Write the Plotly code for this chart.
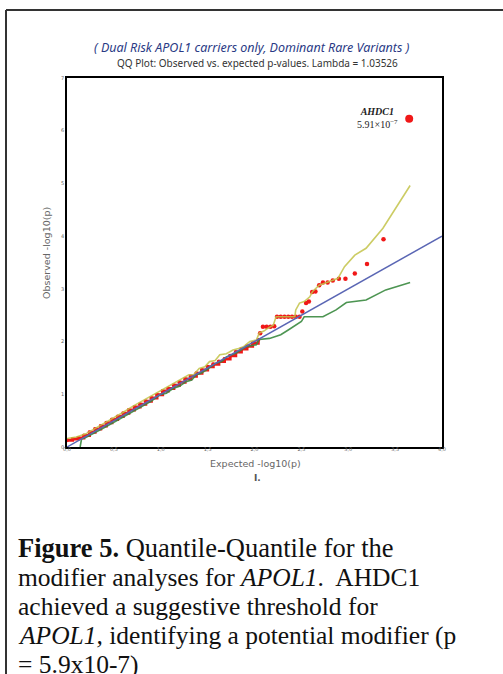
import plotly.graph_objects as go

# ---------------- data ----------------
obs_dense_x = [0.00, 0.06, 0.12, 0.18, 0.24, 0.30, 0.36, 0.42, 0.48, 0.54, 0.60, 0.66,
               0.72, 0.78, 0.84, 0.90, 0.96, 1.02, 1.08, 1.14, 1.20, 1.26, 1.32, 1.38,
               1.44, 1.50, 1.56, 1.62, 1.68, 1.74, 1.80, 1.86, 1.92, 1.98, 2.04]
obs_dense_y = [0.13, 0.15, 0.17, 0.22, 0.28, 0.34, 0.40, 0.46, 0.52, 0.58, 0.64, 0.70,
               0.76, 0.81, 0.87, 0.93, 0.99, 1.06, 1.11, 1.17, 1.23, 1.29, 1.34, 1.40,
               1.46, 1.52, 1.57, 1.62, 1.67, 1.73, 1.80, 1.86, 1.91, 1.97, 2.03]

obs_tail_x = [2.06, 2.09, 2.13, 2.17, 2.21, 2.24, 2.28, 2.32, 2.36, 2.40, 2.44, 2.48,
              2.51, 2.55, 2.58, 2.615, 2.65, 2.69, 2.73, 2.78, 2.835, 2.90, 2.97,
              3.07, 3.20, 3.376]
obs_tail_y = [2.16, 2.28, 2.28, 2.28, 2.29, 2.47, 2.47, 2.47, 2.47, 2.47, 2.47, 2.47,
              2.57, 2.73, 2.76, 2.94, 2.95, 3.07, 3.12, 3.12, 3.16, 3.19, 3.19,
              3.29, 3.47, 3.94]

top_gene = "AHDC1"
top_x = [3.65]
top_y = [6.228]

upper_x = [0.00, 0.10, 0.20, 0.30, 0.40, 0.50, 0.60, 0.70, 0.80, 0.90, 1.00, 1.10,
           1.20, 1.30, 1.35, 1.41, 1.47, 1.52, 1.58, 1.63, 1.70, 1.77, 1.83, 1.88,
           1.95, 2.02, 2.05, 2.10, 2.14, 2.20, 2.23, 2.43, 2.44, 2.48, 2.53, 2.59,
           2.62, 2.69, 2.80, 2.89, 2.96, 3.07, 3.19, 3.37, 3.66]
upper_y = [0.16, 0.19, 0.25, 0.35, 0.46, 0.56, 0.66, 0.77, 0.87, 0.97, 1.07, 1.17,
           1.27, 1.37, 1.37, 1.49, 1.52, 1.62, 1.64, 1.75, 1.77, 1.84, 1.87, 1.90,
           2.00, 2.03, 2.16, 2.20, 2.25, 2.31, 2.47, 2.47, 2.60, 2.73, 2.76, 2.85,
           2.95, 3.07, 3.14, 3.20, 3.42, 3.64, 3.77, 4.15, 4.96]

lower_x = [0.14, 0.155, 0.20, 0.30, 0.40, 0.50, 0.60, 0.70, 0.80, 0.90, 0.99, 1.06,
           1.13, 1.20, 1.27, 1.33, 1.38, 1.43, 1.485, 1.54, 1.59, 1.65, 1.70, 1.80,
           1.91, 2.02, 2.05, 2.16, 2.28, 2.36, 2.44, 2.50, 2.53, 2.73, 2.87, 2.98,
           3.19, 3.40, 3.66]
lower_y = [0.00, 0.15, 0.18, 0.27, 0.37, 0.47, 0.57, 0.67, 0.77, 0.87, 0.99, 1.02,
           1.11, 1.15, 1.24, 1.27, 1.37, 1.40, 1.46, 1.52, 1.59, 1.62, 1.71, 1.78,
           1.90, 1.94, 2.04, 2.06, 2.13, 2.22, 2.31, 2.38, 2.47, 2.47, 2.60, 2.74,
           2.79, 2.98, 3.12]

diag_x = [0.0, 4.0]
diag_y = [0.0, 4.0]

x_tickvals = [0.0, 0.5, 1.0, 1.5, 2.0, 2.5, 3.0, 3.5, 4.0]
x_ticktext = ["0,0", "0,5", "1,0", "1,5", "2,0", "2,5", "3,0", "3,5", "4,0"]
y_tickvals = [0, 1, 2, 3, 4, 5, 6, 7]
y_ticktext = ["0", "1", "2", "3", "4", "5", "6", "7"]

caption_lines = [
    "<b>Figure 5.</b> Quantile-Quantile for the",
    "modifier analyses for <i>APOL1</i>.\u00a0 AHDC1",
    "achieved a suggestive threshold for",
    "<i>APOL1,</i> identifying a potential modifier (p",
    "= 5.9x10-7)",
]

# ---------------- layout geometry (pixels) ----------------
W, H = 503, 674
L, R, T, B = 67, 442, 78, 447


def px(xp):
    return (xp - L) / (R - L)


def py(yp):
    return (B - yp) / (B - T)


SERIF = "Liberation Serif, Times New Roman, DejaVu Serif, serif"

fig = go.Figure()

RED = "#f01818"
fig.add_trace(go.Scatter(x=obs_dense_x, y=obs_dense_y, mode="lines+markers",
                         line=dict(color=RED, width=3, shape="hv"),
                         marker=dict(color=RED, size=4), showlegend=False))
fig.add_trace(go.Scatter(x=obs_tail_x, y=obs_tail_y, mode="markers",
                         marker=dict(color=RED, size=4.5), showlegend=False))
fig.add_trace(go.Scatter(x=top_x, y=top_y, mode="markers",
                         marker=dict(color=RED, size=8), showlegend=False))
fig.add_trace(go.Scatter(x=upper_x, y=upper_y, mode="lines",
                         line=dict(color="#c4c44a", width=1.6), opacity=0.85,
                         showlegend=False))
fig.add_trace(go.Scatter(x=lower_x, y=lower_y, mode="lines",
                         line=dict(color="#3a8a40", width=1.6), opacity=0.9,
                         showlegend=False))
fig.add_trace(go.Scatter(x=diag_x, y=diag_y, mode="lines",
                         line=dict(color="#5a66b4", width=1.5), showlegend=False))


def ann(text, xp, yp, size, family="Noto Sans", color="#333333", **kw):
    d = dict(text=text, x=px(xp), y=py(yp), xref="paper", yref="paper",
             showarrow=False, xanchor="center", yanchor="middle",
             font=dict(family=family, size=size, color=color))
    d.update(kw)
    return d


annotations = [
    ann("<i>( Dual Risk APOL1 carriers only, Dominant Rare Variants )</i>",
        252, 47, 12.5, color="#2a3a85"),
    ann("QQ Plot: Observed vs. expected p-values. Lambda = 1.03526",
        257, 63, 10, color="#333333"),
    ann("Expected -log10(p)", 255, 463, 9.5, family="DejaVu Sans", color="#666666"),
    ann("Observed -log10(p)", 46, 253, 9.5, family="DejaVu Sans", color="#666666",
        textangle=-90),
    ann("<b>I.</b>", 257, 478, 9, family="DejaVu Sans", color="#555555"),
    ann("<b><i>" + top_gene + "</i></b><br>5.91×10<sup>−7</sup>",
        377, 118, 10, family=SERIF, color="#222222"),
]

cap_y = [548, 577, 606, 635, 664]
cap_size = [26.5, 25.5, 25.5, 25.5, 25.5]
for line, yy, sz in zip(caption_lines, cap_y, cap_size):
    annotations.append(ann(line, 16, yy, sz, family=SERIF, color="#111111",
                           xanchor="left", align="left"))

shapes = [
    dict(type="line", xref="paper", yref="paper", x0=px(6), y0=py(10), x1=px(503),
         y1=py(10), line=dict(color="#333333", width=2)),
    dict(type="line", xref="paper", yref="paper", x0=px(6), y0=py(10), x1=px(6),
         y1=py(674), line=dict(color="#333333", width=2)),
]

fig.update_layout(
    width=W, height=H,
    margin=dict(l=L, r=W - R, t=T, b=H - B),
    paper_bgcolor="white", plot_bgcolor="white",
    annotations=annotations, shapes=shapes,
    xaxis=dict(range=[0, 4], tickvals=x_tickvals, ticktext=x_ticktext,
               showgrid=False, zeroline=False, showline=True, linecolor="black",
               linewidth=1.5, mirror=True, ticks="", ticklen=0,
               ticklabelstandoff=-4,
               tickfont=dict(family="DejaVu Sans", size=5, color="#666666")),
    yaxis=dict(range=[0, 7], tickvals=y_tickvals, ticktext=y_ticktext,
               showgrid=False, zeroline=False, showline=True, linecolor="black",
               linewidth=1.5, mirror=True, ticks="", ticklen=0,
               tickfont=dict(family="DejaVu Sans", size=5, color="#666666")),
)

fig.write_html("out.html", config={"displayModeBar": False},
               post_script="document.body.style.margin='0';"
                           "document.body.style.overflow='hidden';")
